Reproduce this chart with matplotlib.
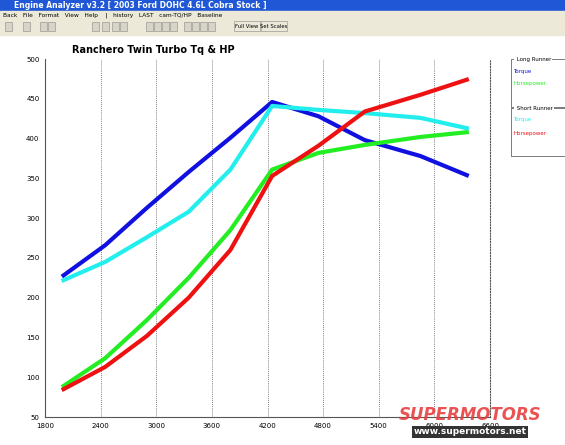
import matplotlib.pyplot as plt
from matplotlib.patches import Rectangle

rpm = [2000, 2450, 2900, 3350, 3800, 4250, 4750, 5250, 5850, 6350]
long_tq = [228, 266, 313, 358, 401, 446, 428, 398, 378, 354]
long_hp = [89, 124, 172, 225, 285, 361, 382, 392, 402, 408]
short_tq = [222, 245, 276, 308, 361, 441, 436, 432, 426, 413]
short_hp = [85, 113, 152, 200, 260, 353, 391, 434, 455, 474]
xticks = [1800, 2400, 3000, 3600, 4200, 4800, 5400, 6000, 6600]
yticks = list(range(50, 501, 50))

W, H = 565, 445
fig = plt.figure(figsize=(W / 100, H / 100), dpi=100)
fig.patch.set_facecolor('white')

def box(x, y, w, h, **kw):
    fig.patches.append(Rectangle((x / W, 1 - (y + h) / H), w / W, h / H,
                                 transform=fig.transFigure, **kw))

# window chrome
box(0, 0, W, 11, color='#1f57d6')
fig.text(14 / W, 1 - 6 / H, 'Engine Analyzer v3.2 [ 2003 Ford DOHC 4.6L Cobra Stock ]',
         color='white', fontsize=5.5, fontweight='bold', va='center')
box(0, 11, W, 24, color='#ece9d8')
fig.text(3 / W, 1 - 15 / H,
         'Back   File   Format   View   Help    |   history   LAST   cam-TQ/HP   Baseline',
         fontsize=4.2, va='center')
for bx in [5, 23, 40, 48, 92, 102, 112, 120, 146, 154, 162, 170, 184, 192, 200, 208]:
    box(bx, 22, 7, 9, facecolor='#d8d4c8', edgecolor='#888888', lw=0.4)
box(234, 21, 26, 10, facecolor='#ece9d8', edgecolor='#888888', lw=0.4)
fig.text(247 / W, 1 - 26 / H, 'Full View', fontsize=3.8, ha='center', va='center')
box(261, 21, 26, 10, facecolor='#ece9d8', edgecolor='#888888', lw=0.4)
fig.text(274 / W, 1 - 26 / H, 'Set Scales', fontsize=3.8, ha='center', va='center')

ax = fig.add_axes([45 / W, 28 / H, 445 / W, 358 / H])
ax.plot(rpm, long_tq, color='#1010e0', lw=3)
ax.plot(rpm, long_hp, color='#22ee22', lw=3)
ax.plot(rpm, short_tq, color='#22eeee', lw=3)
ax.plot(rpm, short_hp, color='#ee1111', lw=3)
ax.set_xlim(1800, 6600)
ax.set_ylim(50, 500)
ax.set_xticks(xticks)
ax.set_yticks(yticks)
ax.tick_params(labelsize=5, length=0, pad=4)
for x in xticks[1:]:
    ax.axvline(x, color='#555555', lw=0.6, ls=(0, (1, 1.5)), zorder=0)
ax.spines['top'].set_visible(False)
ax.spines['right'].set_linestyle((0, (1, 1.5)))
ax.spines['right'].set_color('#555555')
ax.spines['left'].set_color('#555555')
ax.spines['bottom'].set_color('#555555')
fig.text(72 / W, 1 - 50 / H, 'Ranchero Twin Turbo Tq & HP', fontsize=7, fontweight='bold',
         va='center')

# legend panels
def panel(y, title, items):
    box(511, y, 60, 48, facecolor='none', edgecolor='#666666', lw=0.6)
    fig.text(515 / W, 1 - y / H, ' ' + title, fontsize=4, va='center',
             bbox=dict(facecolor='white', edgecolor='none', pad=0.5))
    for i, (label, c) in enumerate(items):
        fig.text(513 / W, 1 - (y + 12 + 13 * i) / H, label, color=c, fontsize=4, va='center')

panel(59, 'Long Runner', [('Torque', '#1010e0'), ('Horsepower', '#22ee22')])
panel(108, 'Short Runner', [('Torque', '#22eeee'), ('Horsepower', '#ee1111')])

# watermark
fig.text(470 / W, 1 - 415 / H, 'SUPERMOTORS', fontsize=12, fontweight='bold', style='italic',
         color='#e84040', ha='center', va='center', alpha=0.9)
fig.text(470 / W, 1 - 432 / H, 'www.supermotors.net', fontsize=6.5, fontweight='bold',
         color='white', ha='center', va='center',
         bbox=dict(facecolor='#333333', edgecolor='none', pad=1))

fig.savefig('out.png', dpi=100)
